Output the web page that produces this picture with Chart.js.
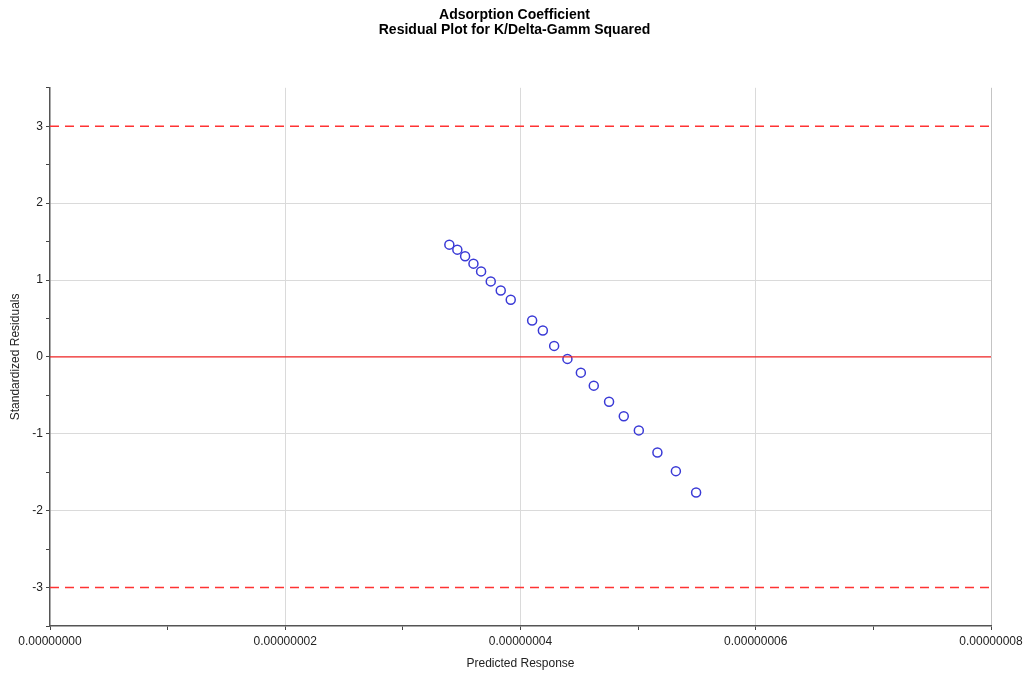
<!DOCTYPE html>
<html>
<head>
<meta charset="utf-8">
<script src="https://cdn.jsdelivr.net/npm/chart.js@4/dist/chart.umd.min.js"></script>
<style>
  html, body { margin: 0; padding: 0; background: #fff; }
  #wrap { width: 1029px; height: 679px; }
</style>
</head>
<body>
<div id="wrap"><canvas id="resid"></canvas></div>
<script>
// predicted response (x) and standardized residual (y)
const predicted = [3.395e-8, 3.463e-8, 3.529e-8, 3.600e-8, 3.665e-8, 3.747e-8, 3.832e-8, 3.917e-8,
                   4.099e-8, 4.190e-8, 4.286e-8, 4.399e-8, 4.513e-8, 4.623e-8, 4.753e-8, 4.878e-8,
                   5.006e-8, 5.164e-8, 5.321e-8, 5.493e-8];
const residuals = [1.46, 1.395, 1.308, 1.213, 1.112, 0.982, 0.864, 0.743,
                   0.473, 0.343, 0.143, -0.026, -0.205, -0.374, -0.583, -0.773,
                   -0.956, -1.243, -1.486, -1.764];
const limitLines = [3, -3];   // dashed red
const zeroLine = 0;            // solid red
const xRange = [0, 8e-8];
const yRange = [-3.5, 3.5];
const titleLines = ["Adsorption Coefficient", "Residual Plot for K/Delta-Gamm Squared"];

const pts = predicted.map((x, i) => ({ x: x, y: residuals[i] }));
const hline = (v) => [{ x: xRange[0], y: v }, { x: xRange[1], y: v }];

const datasets = [];
limitLines.forEach(v => {
    datasets.push({ type: 'line', data: hline(v), borderColor: '#ff3333', borderWidth: 1.4,
        borderDash: [9, 6], pointRadius: 0, fill: false });
});
datasets.push({ type: 'line', data: hline(zeroLine), borderColor: '#ee2222', borderWidth: 1.3,
    pointRadius: 0, fill: false });
datasets.push({ type: 'scatter', data: pts, pointStyle: 'circle', pointRadius: 4.5,
    borderColor: '#3a3ad6', backgroundColor: 'rgba(0,0,0,0)', borderWidth: 1.5 });

const tickFont = { family: 'Arial, "Liberation Sans", sans-serif', size: 12 };

new Chart(document.getElementById('resid'), {
    type: 'scatter',
    data: { datasets: datasets },
    options: {
        responsive: true,
        maintainAspectRatio: false,
        animation: false,
        layout: { padding: { left: 4, right: 4, top: 0, bottom: 4 } },
        plugins: {
            legend: { display: false },
            tooltip: { enabled: false },
            title: {
                display: true,
                text: titleLines,
                color: '#000',
                font: { family: 'Arial, "Liberation Sans", sans-serif', size: 14, weight: 'bold', lineHeight: 1.1 },
                padding: { top: 7, bottom: 50 }
            }
        },
        scales: {
            x: {
                type: 'linear',
                min: xRange[0], max: xRange[1],
                afterFit: (s) => { s.height = 49; s.paddingRight = 38; },
                ticks: {
                    stepSize: 1e-8,
                    autoSkip: false,
                    maxRotation: 0,
                    color: '#222',
                    font: tickFont,
                    padding: 4,
                    callback: (v) => (Math.round(v / 1e-8) % 2 === 0 ? v.toFixed(8) : '')
                },
                grid: {
                    color: (c) => {
                        const k = Math.round(c.tick.value / 1e-8);
                        if (k === 0) return 'rgba(0,0,0,0)';
                        if (k === 8) return '#c4c4c4';
                        return k % 2 === 0 ? '#dadada' : 'rgba(0,0,0,0)';
                    },
                    tickColor: '#444',
                    tickLength: 4
                },
                border: { color: '#555', width: 1.5 },
                title: { display: true, text: 'Predicted Response', color: '#222', font: tickFont, padding: { top: 2 } }
            },
            y: {
                min: yRange[0], max: yRange[1],
                afterFit: (s) => { s.width = 46; },
                ticks: {
                    stepSize: 0.5,
                    autoSkip: false,
                    color: '#222',
                    font: tickFont,
                    padding: 3,
                    callback: (v) => (Number.isInteger(v) ? String(v) : '')
                },
                grid: {
                    color: (c) => {
                        const v = c.tick.value;
                        if (!Number.isInteger(v) || Math.abs(v) === 3 || v === 0) return 'rgba(0,0,0,0)';
                        return '#dadada';
                    },
                    tickColor: '#444',
                    tickLength: 4
                },
                border: { color: '#555', width: 1.5 },
                title: { display: true, text: 'Standardized Residuals', color: '#222', font: tickFont, padding: { bottom: 0 } }
            }
        }
    }
});
</script>
</body>
</html>
